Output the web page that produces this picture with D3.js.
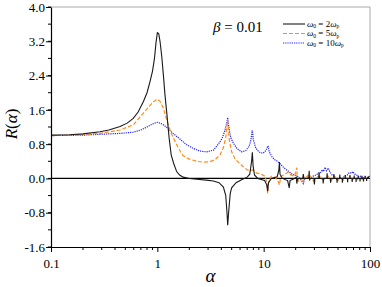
<!DOCTYPE html>
<html lang="en">
<head>
  <meta charset="UTF-8" />
  <title>R(alpha)</title>
  <script src="https://d3js.org/d3.v7.min.js"></script>
  <style>
    body { margin: 0; background: #fff; }
  </style>
</head>
<body>
<svg width="382" height="287"></svg>
<script>
// alpha, R(alpha)
const omega2 = [
  [0.1,1.01],[0.15,1.02],[0.2,1.04],[0.289,1.09],[0.35,1.13],[0.446,1.21],[0.52,1.29],[0.594,1.40],
  [0.66,1.55],[0.738,1.79],[0.8,2.0],[0.853,2.26],[0.9,2.5],[0.94,2.8],[0.97,3.15],[1.0,3.40],
  [1.03,3.38],[1.06,3.2],[1.1,2.85],[1.14,2.41],[1.18,1.95],[1.23,1.5],[1.29,0.95],[1.35,0.55],
  [1.42,0.36],[1.52,0.16],[1.62,0.08],[1.75,0.03],[2.0,0.0],[2.34,-0.02],[2.9,-0.04],[3.37,-0.06],
  [3.8,-0.1],[4.18,-0.2],[4.4,-0.4],[4.52,-0.8],[4.59,-1.09],[4.68,-0.8],[4.85,-0.35],[5.0,-0.22],
  [5.5,-0.1],[6.2,-0.03],[7.0,0.03],[7.4,0.1],[7.7,0.4],[7.83,0.61],[7.95,0.3],[8.2,0.08],[8.8,0.0],
  [10.2,-0.05],[10.7,-0.15],[10.9,-0.3],[11.1,-0.1],[11.8,0.0],[13.4,0.04],[13.9,0.2],[14.06,0.38],
  [14.25,0.1],[15.0,0.0],[16.8,-0.05],[17.4,-0.22],[17.7,-0.05],[19.5,0.0],[20.3,0.03],[20.5,-0.12],
  [20.8,0.0],[23.3,0.0],[23.6,0.1],[23.9,0.0],[26.5,0.0],[26.8,0.18],[27.0,-0.05],[27.3,0.0],
  [29.7,0.0],[30.0,-0.14],[30.3,0.0],[32.9,0.0],[33.2,0.14],[33.5,0.0],[36.0,0.0],[36.3,-0.12],
  [36.6,0.0],[39.2,0.0],[39.5,0.12],[39.8,0.0],[42.3,0.0],[42.6,-0.1],[42.9,0.0],[45.5,0.0],
  [45.8,0.1],[46.1,0.0],[48.7,0.0],[49.0,-0.1],[49.3,0.0],[51.7,0.0],[52.0,0.09],[52.3,0.0],
  [54.7,0.0],[55.0,-0.1],[55.3,0.0],[58.2,0.0],[58.5,0.08],[58.8,0.0],[61.3,0.0],[61.6,-0.09],
  [61.9,0.0],[64.5,0.0],[64.8,0.08],[65.1,0.0],[67.7,0.0],[68.0,-0.08],[68.3,0.0],[70.7,0.0],
  [71.0,0.07],[71.3,0.0],[73.7,0.0],[74.0,-0.08],[74.3,0.0],[77.2,0.0],[77.5,0.07],[77.8,0.0],
  [80.3,0.0],[80.6,-0.07],[80.9,0.0],[83.7,0.0],[84.0,0.06],[84.3,0.0],[86.7,0.0],[87.0,-0.07],
  [87.3,0.0],[89.7,0.0],[90.0,0.06],[90.3,0.0],[92.7,0.0],[93.0,-0.06],[93.3,0.0],[96.2,0.0],
  [96.5,0.05],[96.8,0.0],[100,0.0]
];
const omega5 = [
  [0.1,1.0],[0.2,1.02],[0.289,1.05],[0.446,1.13],[0.594,1.25],[0.738,1.52],[0.85,1.7],[0.92,1.79],
  [1.0,1.85],[1.06,1.80],[1.14,1.64],[1.23,1.35],[1.27,1.25],[1.35,1.05],[1.47,0.86],[1.6,0.68],
  [1.75,0.53],[2.0,0.45],[2.34,0.40],[2.7,0.38],[3.12,0.39],[3.5,0.44],[3.89,0.55],[4.18,0.72],
  [4.4,0.95],[4.59,1.36],[4.75,0.9],[5.0,0.62],[5.4,0.45],[5.77,0.38],[6.4,0.28],[7.0,0.2],
  [7.6,0.18],[7.83,0.2],[8.5,0.13],[9.5,0.1],[10.3,0.05],[10.7,-0.1],[10.9,-0.35],[11.1,-0.1],
  [11.8,0.05],[12.8,0.02],[13.6,-0.05],[14.06,-0.15],[14.5,0.05],[16.0,0.1],[17.0,0.15],[18.0,0.08],
  [19.5,0.05],[20.5,0.25],[20.8,-0.1],[21.5,0.0],[23.6,-0.05],[25.0,0.02],[26.8,0.1],[28.0,0.0],
  [30.0,-0.08],[31.5,0.0],[33.2,0.08],[34.5,0.0],[36.3,-0.05],[38.0,0.02],[40.0,0.06],[41.5,0.0],
  [43.0,-0.06],[45.0,0.02],[46.5,0.05],[48.0,0.0],[50.0,-0.05],[53.0,0.04],[56.0,-0.04],[59.0,0.04],
  [62.0,-0.03],[65.0,0.04],[68.0,-0.04],[72.0,0.03],[76.0,-0.03],[80.0,0.03],[85.0,-0.03],
  [90.0,0.03],[95.0,-0.02],[100,0.02]
];
const omega10 = [
  [0.1,1.0],[0.2,1.01],[0.289,1.03],[0.446,1.05],[0.594,1.08],[0.7,1.13],[0.8,1.2],[0.9,1.27],
  [1.0,1.31],[1.06,1.29],[1.14,1.25],[1.23,1.19],[1.31,1.12],[1.42,1.04],[1.63,0.92],[1.85,0.8],
  [2.18,0.70],[2.5,0.64],[2.9,0.62],[3.37,0.66],[3.74,0.8],[4.04,0.92],[4.3,1.1],[4.5,1.3],
  [4.59,1.42],[4.7,1.2],[4.9,0.95],[5.2,0.82],[5.6,0.7],[6.2,0.62],[6.8,0.65],[7.3,0.75],[7.6,0.9],
  [7.8,1.13],[8.0,0.9],[8.4,0.72],[8.7,0.66],[9.3,0.6],[9.9,0.59],[10.5,0.65],[10.8,0.72],
  [11.0,0.76],[11.3,0.62],[12.0,0.5],[12.8,0.43],[13.5,0.4],[14.06,0.36],[15.5,0.25],[17.0,0.17],
  [18.5,0.1],[20.5,0.06],[22.0,0.0],[23.6,-0.12],[24.5,0.0],[26.0,0.03],[27.5,0.0],[29.0,0.05],
  [31.0,0.08],[33.0,0.13],[34.0,0.12],[35.5,0.2],[36.5,0.16],[37.8,0.26],[39.0,0.18],[40.5,0.24],
  [42.0,0.15],[44.0,0.08],[46.6,0.04],[49.0,-0.03],[52.0,0.02],[55.0,0.0],[58.0,0.06],[61.0,0.08],
  [64.0,0.14],[67.0,0.12],[69.0,0.16],[72.0,0.1],[75.0,0.08],[78.0,0.03],[82.0,0.05],[86.0,0.0],
  [90.0,0.04],[95.0,0.02],[100,0.06]
];

const series = [
  { name: "2", data: omega2, color: "#1a1a1a", dash: null, width: 1.1 },
  { name: "5", data: omega5, color: "#ff8c1a", dash: "4,2", width: 1.2 },
  { name: "10", data: omega10, color: "#2222ff", dash: "1.2,1", width: 1.2 }
];

const xTicks = [0.1, 1, 10, 100];
const yTicks = [-1.6, -0.8, 0.0, 0.8, 1.6, 2.4, 3.2, 4.0];

const FONT = '"Liberation Serif"';

const svg = d3.select("svg");
const margin = { top: 7, right: 12, bottom: 40, left: 51 };
const width = 382 - margin.left - margin.right;
const height = 287 - margin.top - margin.bottom;

const x = d3.scaleLog().domain([0.1, 100]).range([0, width]);
const y = d3.scaleLinear().domain([-1.6, 4.0]).range([height, 0]);

const g = svg.append("g").attr("transform", `translate(${margin.left},${margin.top})`);

// top / right frame
g.append("path")
  .attr("d", `M0,0H${width}V${height}`)
  .attr("fill", "none")
  .attr("stroke", "#aaa")
  .attr("stroke-width", 1);

// zero line
g.append("line")
  .attr("x1", 0).attr("x2", width)
  .attr("y1", y(0)).attr("y2", y(0))
  .attr("stroke", "#000")
  .attr("stroke-width", 1.3);

const line = d3.line().x(d => x(d[0])).y(d => y(d[1]));

g.append("defs").append("clipPath").attr("id", "clip")
  .append("rect").attr("width", width).attr("height", height);

const curves = g.append("g").attr("clip-path", "url(#clip)");
series.slice().reverse().forEach(s => {
  curves.append("path")
    .datum(s.data)
    .attr("fill", "none")
    .attr("stroke", s.color)
    .attr("stroke-width", s.width)
    .attr("stroke-dasharray", s.dash)
    .attr("d", line);
});

// minor ticks
const xMinor = [];
[0.1, 1, 10].forEach(d => { for (let k = 2; k <= 9; k++) xMinor.push(d * k); });
const yMinor = d3.range(-1.6, 4.01, 0.4);

const xAxis = g.append("g")
  .attr("transform", `translate(0,${height})`)
  .call(d3.axisBottom(x).tickValues(xTicks).tickFormat(d => String(d)).tickSize(5).tickSizeOuter(0));
xAxis.append("g").selectAll("line").data(xMinor).join("line")
  .attr("x1", d => x(d)).attr("x2", d => x(d))
  .attr("y1", 0).attr("y2", 3)
  .attr("stroke", "#000");

const yAxis = g.append("g")
  .call(d3.axisLeft(y).tickValues(yTicks).tickFormat(d => d.toFixed(1)).tickSize(5).tickSizeOuter(0));
yAxis.append("g").selectAll("line").data(yMinor).join("line")
  .attr("x1", 0).attr("x2", -3)
  .attr("y1", d => y(d)).attr("y2", d => y(d))
  .attr("stroke", "#000");

[xAxis, yAxis].forEach(a => {
  a.select(".domain").attr("stroke", "#000").attr("stroke-width", 1.2);
  a.selectAll(".tick line").attr("stroke", "#000");
  a.selectAll(".tick text")
    .attr("fill", "#000")
    .style("font-family", FONT)
    .style("font-size", "13px");
});
xAxis.selectAll(".tick text").attr("dy", "1.0em");
yAxis.selectAll(".tick text").attr("x", -6);

// axis titles
svg.append("text")
  .attr("x", margin.left + width / 2).attr("y", 282)
  .attr("text-anchor", "middle")
  .style("font-family", FONT)
  .style("font-size", "19px").style("font-style", "italic")
  .text("α");

const ylab = svg.append("text")
  .attr("transform", `translate(17,${margin.top + height / 2 - 3}) rotate(-90)`)
  .attr("text-anchor", "middle")
  .style("font-family", FONT)
  .style("font-size", "17px");
ylab.append("tspan").style("font-style", "italic").text("R");
ylab.append("tspan").text("(");
ylab.append("tspan").style("font-style", "italic").text("α");
ylab.append("tspan").text(")");

// beta annotation
const beta = svg.append("text").attr("x", 213).attr("y", 32)
  .style("font-family", FONT).style("font-size", "15px");
beta.append("tspan").style("font-style", "italic").text("β");
beta.append("tspan").text(" = 0.01");

// legend
const leg = svg.append("g");
series.forEach((s, i) => {
  const ly = 24 + i * 9.5;
  leg.append("line")
    .attr("x1", 283).attr("x2", 305)
    .attr("y1", ly).attr("y2", ly)
    .attr("stroke", s.color)
    .attr("stroke-width", s.width)
    .attr("stroke-dasharray", s.dash);
  const t = leg.append("text").attr("x", 307).attr("y", ly + 2.5)
    .style("font-family", FONT).style("font-size", "9px");
  t.append("tspan").style("font-style", "italic").text("ω");
  t.append("tspan").attr("dy", 1.5).style("font-size", "5.5px").text("0");
  t.append("tspan").attr("dy", -1.5).text(` = ${s.name}`);
  t.append("tspan").style("font-style", "italic").text("ω");
  t.append("tspan").attr("dy", 1.5).style("font-size", "5.5px").text("p");
});
</script>
</body>
</html>
